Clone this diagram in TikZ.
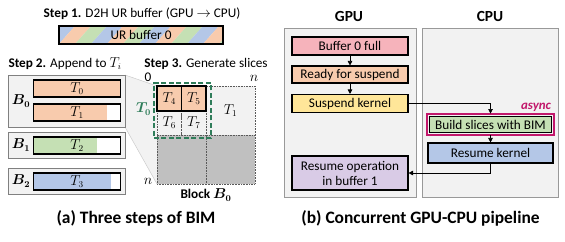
\documentclass[tikz,border=0pt]{standalone}
\usepackage{fontspec}
\setmainfont{Carlito}
\usepackage{amsmath,bm}
\usetikzlibrary{arrows.meta,calc}
\definecolor{cO}{HTML}{F8CBAD}
\definecolor{cG}{HTML}{C5E0B4}
\definecolor{cB}{HTML}{B4C7E7}
\definecolor{cPink}{HTML}{F6B3BB}
\definecolor{cYel}{HTML}{FFE699}
\definecolor{cLav}{HTML}{D9CBE6}
\definecolor{cPanel}{HTML}{F2F2F2}
\definecolor{cDark}{HTML}{C0C0C0}
\definecolor{cTeal}{HTML}{2F7D5A}
\definecolor{cMag}{HTML}{C2186B}
\begin{document}
\fontsize{13.3}{15}\selectfont
\begin{tikzpicture}[x=1bp,y=-1bp,
  every node/.style={font=\fontsize{13.3}{15}\selectfont},
  bbox/.style={draw=gray, line width=0.8pt, fill=cPanel, minimum width=117bp, inner sep=0pt},
  bar/.style={draw=black, line width=1.1pt, fill=white, minimum width=87bp, minimum height=17bp, inner sep=0pt},
  pfill/.style 2 args={path picture={\fill[#1] (path picture bounding box.north west) rectangle ($(path picture bounding box.south west)!#2!(path picture bounding box.south east)$);}},
  cell/.style={draw=gray!70!black, densely dotted, line width=0.6pt, inner sep=0pt},
  panel/.style={draw=gray!80, line width=0.8pt, fill=cPanel, inner sep=0pt},
  proc/.style={draw=black, line width=1.1pt, minimum width=116bp, minimum height=18bp, inner sep=0pt, align=center},
  arr/.style={-{Triangle[length=4.5bp,width=4.5bp]}, line width=0.6pt},
  captext/.style={font=\fontsize{17.5}{19}\selectfont\bfseries},
  headtext/.style={font=\fontsize{15.5}{17}\selectfont\bfseries}
]
\useasboundingbox (0,0) rectangle (565,241);

% ---------------- (a) ----------------
\node (s1) at (142,14) {\textbf{Step 1.} D2H UR buffer (GPU $\rightarrow$ CPU)};
\begin{scope}
  \clip (59,26) rectangle (223,44);
  \foreach \k/\col in {-2/cG,-1/cB,0/cO,1/cG,2/cB,3/cO,4/cG,5/cB,6/cO,7/cG,8/cB,9/cO,10/cG,11/cB}{
    \fill[\col] (59+16*\k,44) -- (75+16*\k,44) -- (91+16*\k,26) -- (75+16*\k,26) -- cycle;
  }
\end{scope}
\node[draw=black, line width=1.1pt, minimum width=164bp, minimum height=18bp, inner sep=0pt] (ur) at (141,35) {UR buffer 0};

\node (s2) at (65,64) {\textbf{Step 2.} Append to $T_i$};
\node (s3) at (206,64) {\textbf{Step 3.} Generate slices};

% projection
\fill[cPanel] (125,75) -- (157,86) -- (157,184) -- (125,127) -- cycle;
\draw[gray!40, line width=0.5pt] (125,75) -- (157,86) (125,127) -- (157,184);

\node[bbox, minimum height=52bp] (b0box) at (66.5,101) {};
\node[bbox, minimum height=26bp] (b1box) at (66.5,145) {};
\node[bbox, minimum height=26bp] (b2box) at (66.5,181) {};
\node (b0) at (21,101) {$\boldsymbol{B_0}$};
\node (b1) at (21,145) {$\boldsymbol{B_1}$};
\node (b2) at (21,181) {$\boldsymbol{B_2}$};
\node[bar, fill=cO] (t0) at (77,88.5) {$T_0$};
\node[bar, pfill={cO}{0.85}] (t1) at (77,112.5) {$T_1$};
\node[bar, pfill={cG}{0.73}] (t2) at (77,145.5) {$T_2$};
\node[bar, pfill={cB}{0.89}] (t3) at (77,181.5) {$T_3$};

% block
\node[cell, fill=cPanel, minimum width=24.5bp, minimum height=24bp] (t6) at (169.25,123) {$T_6$};
\node[cell, fill=cPanel, minimum width=24.5bp, minimum height=24bp] (t7) at (193.75,123) {$T_7$};
\node[cell, fill=cPanel, minimum width=49bp, minimum height=49bp] (q1) at (230.5,110.5) {$T_1$};
\node[cell, fill=cDark, minimum width=49bp, minimum height=49bp] (q2) at (181.5,159.5) {};
\node[cell, fill=cDark, minimum width=49bp, minimum height=49bp] (q3) at (230.5,159.5) {};
\node[draw=black, line width=1.1pt, fill=cO, minimum width=24.5bp, minimum height=25bp, inner sep=0pt] (t4) at (169.25,98.5) {$T_4$};
\node[draw=black, line width=1.1pt, fill=cO, minimum width=24.5bp, minimum height=25bp, inner sep=0pt] (t5) at (193.75,98.5) {$T_5$};
\node[draw=cTeal, dashed, dash pattern=on 5pt off 2.5pt, line width=1.8pt, minimum width=57bp, minimum height=55bp, inner sep=0pt] (sel) at (182.5,110.5) {};
\node[text=cTeal] (tz) at (143.5,109) {$\boldsymbol{T_0}$};
\node[inner sep=1pt] (zero) at (148,77) {0};
\node[inner sep=1pt] (ntop) at (254,78) {$n$};
\node[inner sep=1pt] (nbot) at (148,181) {$n$};
\node (blk) at (206,195) {\textbf{Block} $\boldsymbol{B_0}$};
\node[captext] (capa) at (136,218) {(a) Three steps of BIM};

% ---------------- (b) ----------------
\node[headtext] (gpu) at (349,16) {GPU};
\node[headtext] (cpu) at (490,16) {CPU};
\node[panel, minimum width=132bp, minimum height=169bp] (gp) at (350,112.5) {};
\node[panel, minimum width=136bp, minimum height=169bp] (cp) at (490,112.5) {};

\node[proc, fill=cPink] (buf0) at (350,46) {Buffer 0 full};
\node[proc, fill=cO, minimum height=17bp] (ready) at (350,74.5) {Ready for suspend};
\node[proc, fill=cYel] (susp) at (350,103.5) {Suspend kernel};
\node[proc, fill=cLav, minimum height=34bp] (resop) at (350,173) {Resume operation\\in buffer 1};
\node[proc, fill=cG, line width=0.8pt, minimum width=122bp, minimum height=16bp] (build) at (490.5,124.5) {Build slices with BIM};
\draw[cMag, line width=2pt] ($(build.south west)+(-1.7,1.7)$) rectangle ($(build.north east)+(1.7,-1.7)$);
\node[proc, fill=cB, minimum width=125bp, minimum height=20bp] (resk) at (490.5,153) {Resume kernel};
\node[text=cMag, font=\fontsize{13}{15}\selectfont\bfseries\itshape] (async) at (536,107) {async};

\draw[arr] (buf0.south) -- (ready.north);
\draw[arr] (ready.south) -- (susp.north);
\draw[arr, shorten >=2.5bp] (susp.east) -| (build.north);
\draw[arr, shorten <=2.5bp] (build.south) -- (resk.north);
\draw[arr] (resk.south) |- (resop.east);

\node[captext] (capb) at (420.5,218) {(b) Concurrent GPU-CPU pipeline};
\end{tikzpicture}
\end{document}
